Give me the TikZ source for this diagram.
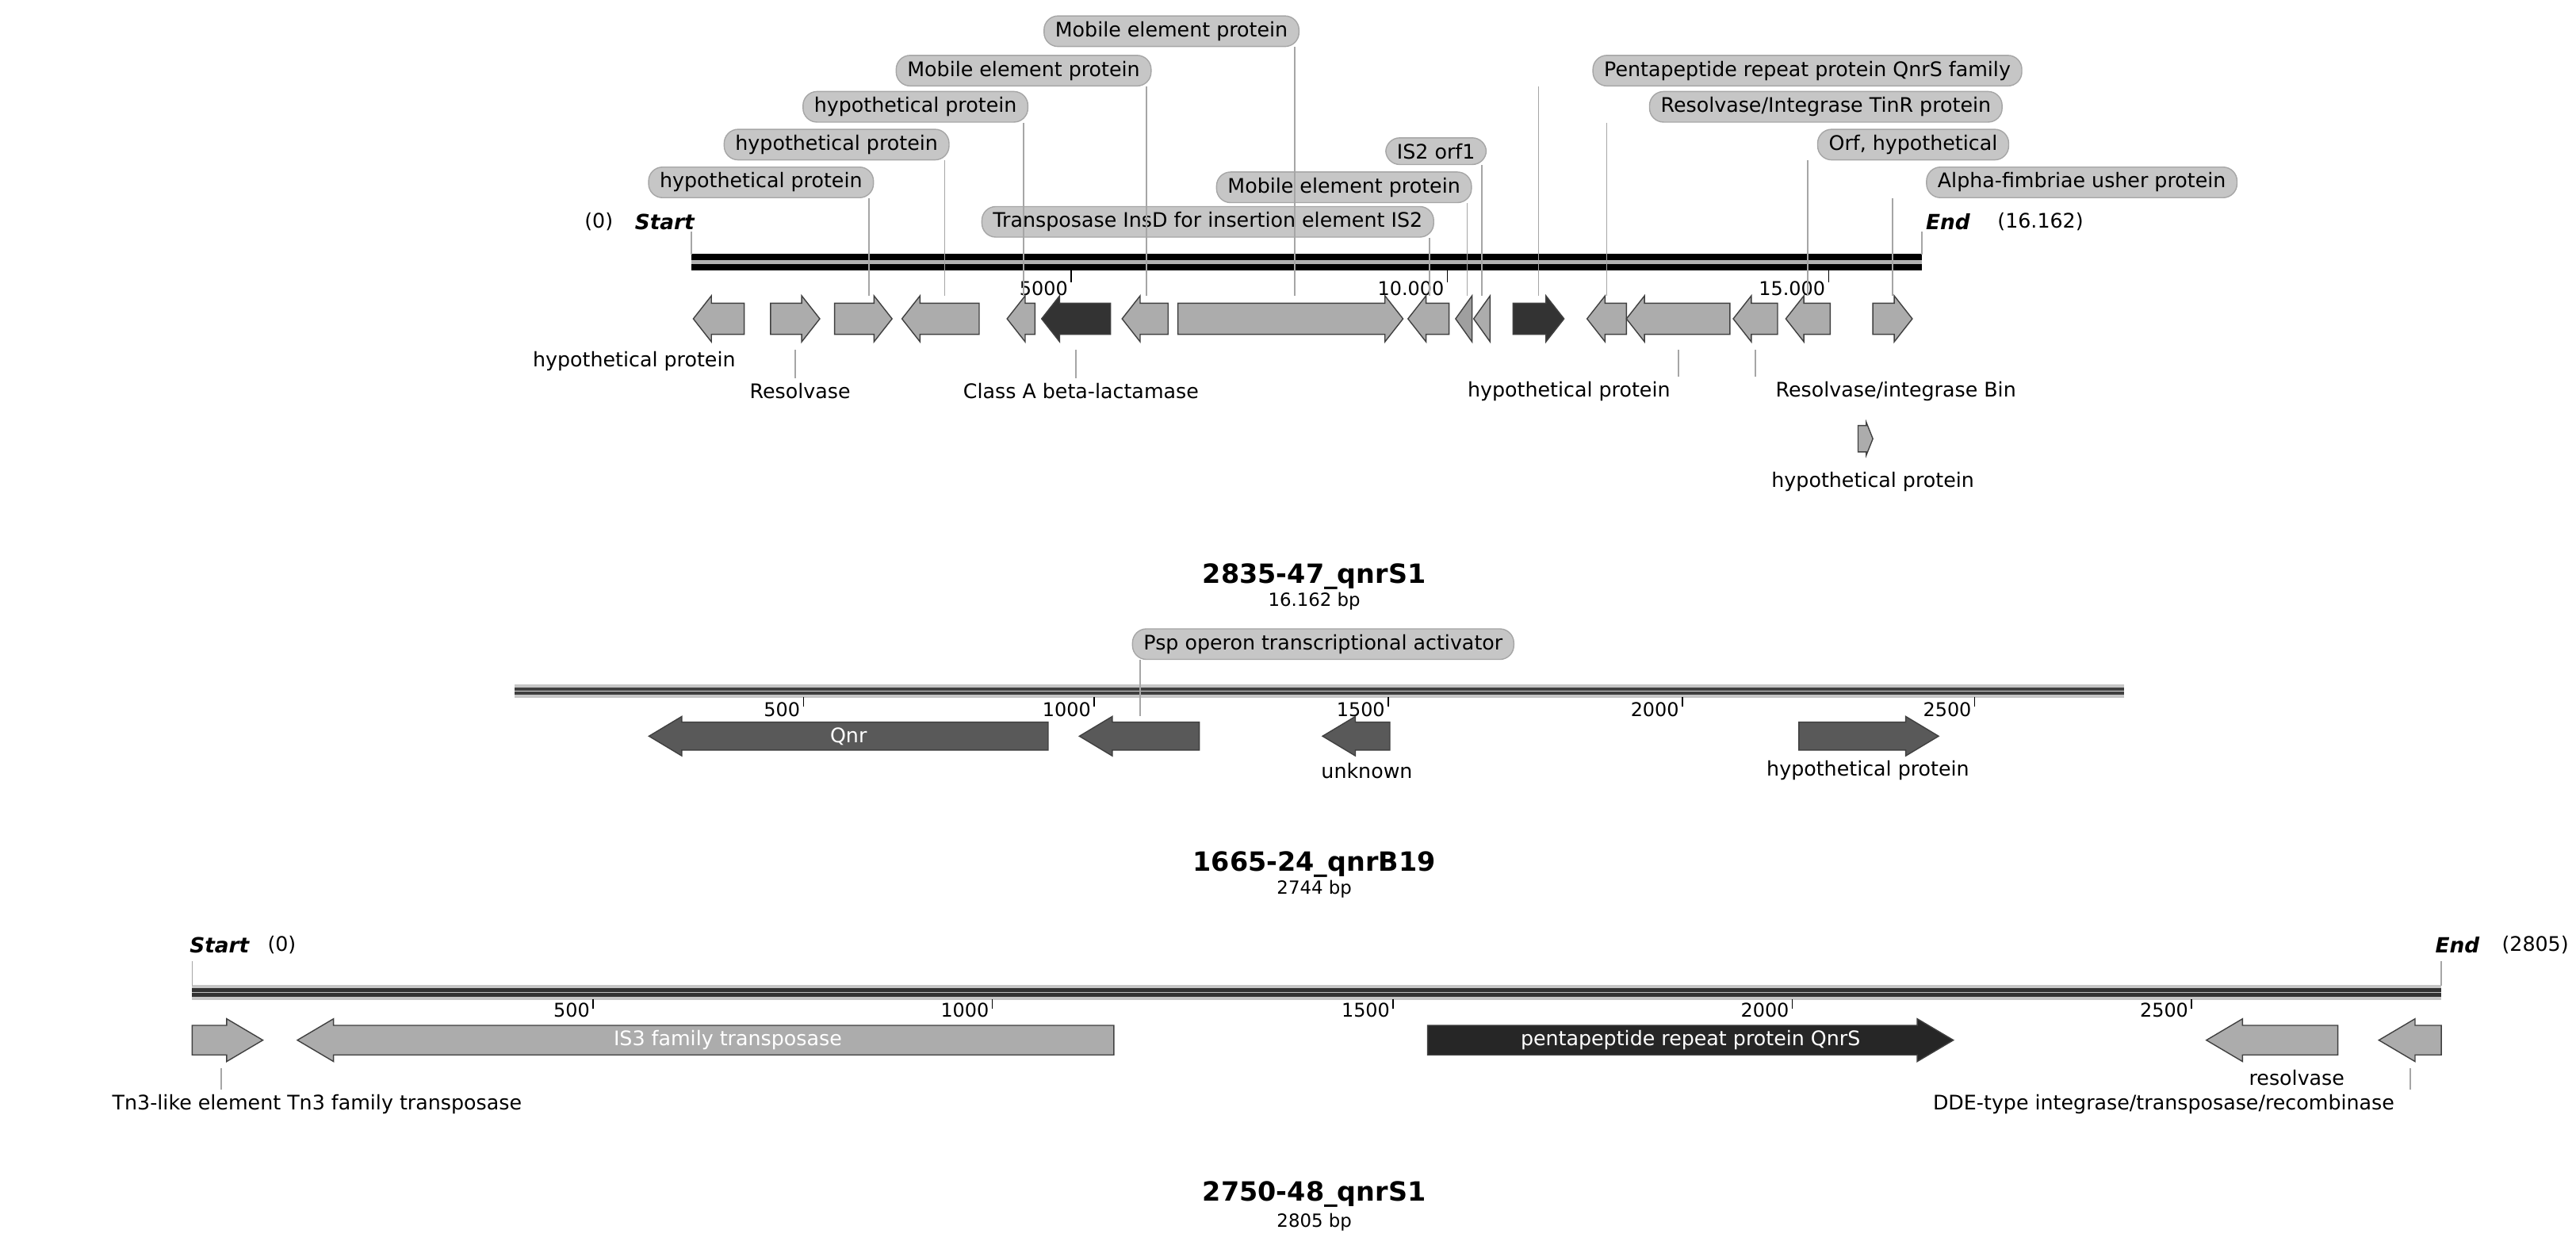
\documentclass[tikz,border=0pt]{standalone}
\usepackage{fontspec}
\setmainfont{DejaVu Sans}
\begin{document}
\begin{tikzpicture}[x=0.02072cm,y=-0.02072cm,
  lab/.style={font=\fontsize{7.2}{8}\selectfont,inner sep=1.5pt},
  box/.style={lab,fill=gray!45,draw=gray!70,rounded corners=5pt,inner xsep=4pt,inner ysep=2pt,anchor=east},
  lead/.style={draw=gray!70,line width=0.5pt},
  tick/.style={font=\fontsize{6.8}{8}\selectfont,inner sep=1pt,anchor=south east},
  inlab/.style={font=\fontsize{7.2}{8}\selectfont,text=white,inner sep=0pt},
  title/.style={font=\bfseries\fontsize{9.5}{11}\selectfont,inner sep=0pt},
  sub/.style={font=\fontsize{6.5}{8}\selectfont,inner sep=0pt},
  se/.style={font=\bfseries\itshape\fontsize{7.5}{9}\selectfont,inner sep=0pt}]
\useasboundingbox (0,0) rectangle (1568,760);
\newcommand\gene[5]{%
  \pgfmathsetmacro\gl{min(\hl,#2-#1)}%
  \pgfmathsetmacro\xa{#1+\gl}\pgfmathsetmacro\xb{#2-\gl}\pgfmathsetmacro\xc{(#1+#2)/2}%
  \if#3R
   \filldraw[fill=#4,draw=gray!50!black,line width=0.4pt] (#1,\gy-\bh) -- (\xb,\gy-\bh) -- (\xb,\gy-\hh) -- (#2,\gy) -- (\xb,\gy+\hh) -- (\xb,\gy+\bh) -- (#1,\gy+\bh) -- cycle;
  \else
   \filldraw[fill=#4,draw=gray!50!black,line width=0.4pt] (#2,\gy-\bh) -- (\xa,\gy-\bh) -- (\xa,\gy-\hh) -- (#1,\gy) -- (\xa,\gy+\hh) -- (\xa,\gy+\bh) -- (#2,\gy+\bh) -- cycle;
  \fi
  \coordinate (#5t) at (\xc,\gy-\hh);\coordinate (#5b) at (\xc,\gy+\hh);\coordinate (#5c) at (\xc,\gy);}
% ================= map 1 =================
\fill[black] (421,154.5) rectangle (1170,164.5);
\fill[gray!60] (421,158.3) rectangle (1170,160.7);
\node[lab,anchor=east] (z1) at (376,135) {(0)};
\node[se,anchor=east] (st1) at (423,135) {Start};
\node[se,anchor=west] (en1) at (1172,135) {End};
\node[lab,anchor=west] (enn1) at (1213,135) {(16.162)};
\draw[lead] (421,141) -- (421,155);
\draw[lead] (1170,141) -- (1170,155);
\foreach \t/\xx in {5000/652,10.000/881,15.000/1113}{
  \draw (\xx,164) -- (\xx,172);
  \node[tick] at (\xx,182) {\t};}
\def\gy{194}\def\bh{9.5}\def\hh{14}\def\hl{11}
\gene{422}{453}{L}{gray!65}{a1}
\gene{469}{499}{R}{gray!65}{a2}
\gene{508}{543}{R}{gray!65}{a3}
\gene{549}{596}{L}{gray!65}{a4}
\gene{613}{630}{L}{gray!65}{a5}
\gene{634}{676}{L}{black!80}{a6}
\gene{683}{711}{L}{gray!65}{a7}
\gene{717}{854}{R}{gray!65}{a8}
\gene{857}{882}{L}{gray!65}{a9}
\gene{886}{896}{L}{gray!75}{a10}
\gene{897}{907}{L}{gray!65}{a11}
\gene{921}{952}{R}{black!80}{a12}
\gene{966}{990}{L}{gray!65}{a13}
\gene{990}{1053}{L}{gray!65}{a14}
\gene{1055}{1082}{L}{gray!65}{a15}
\gene{1087}{1114}{L}{gray!65}{a16}
\gene{1140}{1164}{R}{gray!65}{a17}
\def\gy{267}\def\bh{8}\def\hh{10}\def\hl{4}
\gene{1131}{1140}{R}{gray!65}{a18}
% top labels
\node[box] (l8) at (791,19) {Mobile element protein};
\node[box] (l7) at (701,43) {Mobile element protein};
\node[box] (l5) at (626,65) {hypothetical protein};
\node[box] (l4) at (578,88) {hypothetical protein};
\node[box] (l3) at (532,111) {hypothetical protein};
\node[box] (l9) at (873,135) {Transposase InsD for insertion element IS2};
\node[box] (l10) at (896,114) {Mobile element protein};
\node[box] (l11) at (905,92) {IS2 orf1};
\node[box] (l12) at (1231,43) {Pentapeptide repeat protein QnrS family};
\node[box] (l13) at (1219,65) {Resolvase/Integrase TinR protein};
\node[box] (l16) at (1223,88) {Orf, hypothetical};
\node[box] (l17) at (1362,111) {Alpha-fimbriae usher protein};
\draw[lead] (l8.south east) ++(-3,0) coordinate (q8) -- (q8 |- a8t);
\draw[lead] (l7.south east) ++(-3,0) coordinate (q7) -- (q7 |- a7t);
\draw[lead] (l5.south east) ++(-3,0) coordinate (q5) -- (q5 |- a5t);
\draw[lead] (l4.south east) ++(-3,0) coordinate (q4) -- (q4 |- a4t);
\draw[lead] (l3.south east) ++(-3,0) coordinate (q3) -- (q3 |- a3t);
\draw[lead] (l9.south east) ++(-3,0) coordinate (q9) -- (q9 |- a9t);
\draw[lead] (l10.south east) ++(-3,0) coordinate (q10) -- (q10 |- a10t);
\draw[lead] (l11.south east) ++(-3,0) coordinate (q11) -- (q11 |- a11t);
\draw[lead] (a12t |- l12.south) -- (a12t);
\draw[lead] (a13t |- l13.south) -- (a13t);
\draw[lead] (a16t |- l16.south) -- (a16t);
\draw[lead] (a17t |- l17.south) -- (a17t);
% bottom labels
\node[lab] (b1) at (386,220) {hypothetical protein};
\node[lab] (b2) at (487,238) {Resolvase};
\node[lab] (b6) at (658,238) {Class A beta-lactamase};
\node[lab] (b14) at (955,238) {hypothetical protein};
\node[lab] (b15) at (1154,238) {Resolvase/integrase Bin};
\node[lab] (b18) at (1140,293) {hypothetical protein};
\draw[lead] (a2b) ++(0,5) -- (a2b |- b2.north);
\draw[lead] (a6b) ++(0,5) -- (a6b |- b6.north);
\draw[lead] (a14b) ++(0,5) -- (a14b |- b14.north);
\draw[lead] (a15b) ++(0,5) -- (a15b |- b15.north);
\node[title] (t1) at (800,351) {2835-47\_qnrS1};
\node[sub] (s1) at (800,366) {16.162 bp};
% ================= map 2 =================
\fill[gray!45] (313,416.5) rectangle (1293,424.5);
\fill[black!75] (313,418.3) rectangle (1293,422.7);
\fill[gray!30] (313,420.2) rectangle (1293,420.8);
\foreach \t/\xx in {500/489,1000/666,1500/845,2000/1024,2500/1202}{
  \draw (\xx,424) -- (\xx,430);
  \node[tick] at (\xx,438) {\t};}
\def\gy{448}\def\bh{8.5}\def\hh{12}\def\hl{20}
\gene{395}{638}{L}{black!65}{c1}
\gene{657}{730}{L}{black!65}{c2}
\gene{805}{846}{L}{black!65}{c3}
\gene{1095}{1180}{R}{black!65}{c4}
\node[inlab] (c1l) at (c1c) {Qnr};
\node[box,anchor=west] (m2) at (689,392) {Psp operon transcriptional activator};
\draw[lead] (m2.south west) ++(5,0) coordinate (q2) -- (q2 |- c2t);
\node[lab] (u3) at (832,469) {unknown};
\node[lab] (u4) at (1137,469) {hypothetical protein};
\node[title] (t2) at (800,526) {1665-24\_qnrB19};
\node[sub] (s2) at (800,541) {2744 bp};
% ================= map 3 =================
\fill[gray!45] (117,599.5) rectangle (1486,608.5);
\fill[black!80] (117,601.3) rectangle (1486,606.7);
\fill[gray!50] (117,603.6) rectangle (1486,604.4);
\node[se,anchor=east] (st3) at (152,575) {Start};
\node[lab,anchor=west] (z3) at (160,575) {(0)};
\node[se,anchor=west] (en3) at (1482,575) {End};
\node[lab,anchor=west] (enn3) at (1520,575) {(2805)};
\draw[lead] (117,585) -- (117,600);
\draw[lead] (1486,585) -- (1486,600);
\foreach \t/\xx in {500/361,1000/604,1500/848,2000/1091,2500/1334}{
  \draw (\xx,608) -- (\xx,614);
  \node[tick] at (\xx,621) {\t};}
\def\gy{633}\def\bh{9}\def\hh{13}\def\hl{22}
\gene{117}{160}{R}{gray!65}{e1}
\gene{181}{678}{L}{gray!65}{e2}
\gene{869}{1189}{R}{black!85}{e3}
\gene{1343}{1423}{L}{gray!65}{e4}
\gene{1448}{1486}{L}{gray!65}{e5}
\node[inlab] (e2l) at (443,633) {IS3 family transposase};
\node[inlab] (e3l) at (1029,633) {pentapeptide repeat protein QnrS};
\node[lab] (f1) at (193,672) {Tn3-like element Tn3 family transposase};
\node[lab] (f4) at (1398,656) {resolvase};
\node[lab] (f5) at (1317,672) {DDE-type integrase/transposase/recombinase};
\draw[lead] (e1b) ++(-4,4) coordinate (q31) -- (q31 |- f1.north);
\draw[lead] (e5b) ++(0,4) -- (e5b |- f5.north);
\node[title] (t3) at (800,727) {2750-48\_qnrS1};
\node[sub] (s3) at (800,744) {2805 bp};
\end{tikzpicture}
\end{document}
